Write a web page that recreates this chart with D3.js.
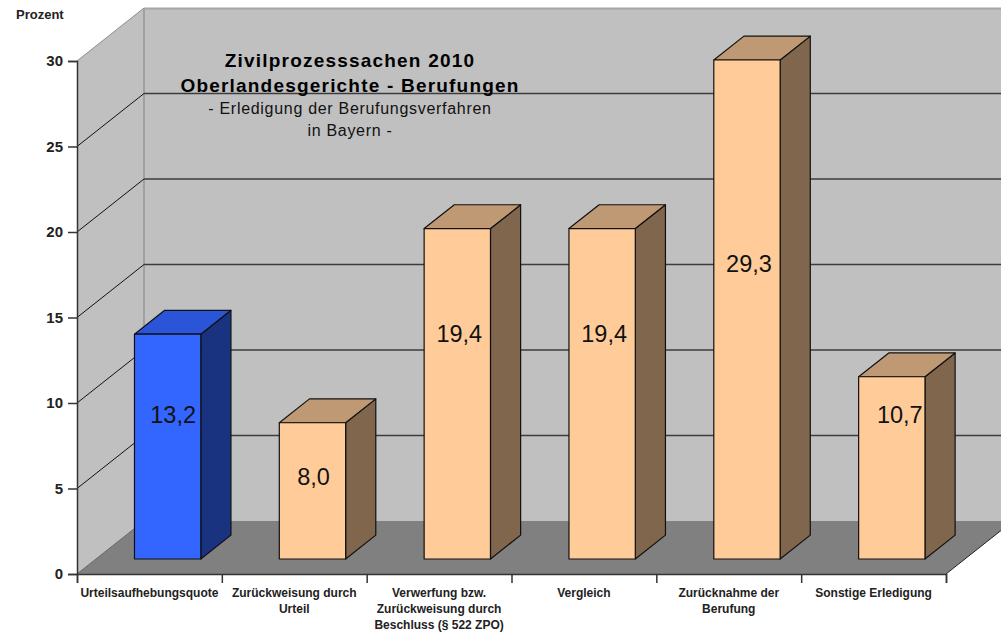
<!DOCTYPE html>
<html>
<head>
<meta charset="utf-8">
<script src="https://cdn.jsdelivr.net/npm/d3@7"></script>
<style>
  body { margin: 0; background: #fff; }
  text { font-family: "Liberation Sans", Arial, sans-serif; }
</style>
</head>
<body>
<div id="chart"></div>
<script>
const categories = ['Urteilsaufhebungsquote', 'Zurückweisung durch Urteil', 'Verwerfung bzw. Zurückweisung durch Beschluss (§ 522 ZPO)', 'Vergleich', 'Zurücknahme der Berufung', 'Sonstige Erledigung'];
const categoryLines = [
    ['Urteilsaufhebungsquote'],
    ['Zurückweisung durch', 'Urteil'],
    ['Verwerfung bzw.', 'Zurückweisung durch', 'Beschluss (§ 522 ZPO)'],
    ['Vergleich'],
    ['Zurücknahme der', 'Berufung'],
    ['Sonstige Erledigung']
];
const values = [13.2, 8.0, 19.4, 19.4, 29.3, 10.7];
const valueLabels = ['13,2', '8,0', '19,4', '19,4', '29,3', '10,7'];
const yTicks = [0, 5, 10, 15, 20, 25, 30];
const titleLines = ['Zivilprozesssachen 2010', 'Oberlandesgerichte - Berufungen'];
const subtitleLines = ['- Erledigung der Berufungsverfahren', 'in Bayern -'];

// the labels do not sit in the bar centre, so they are placed per bar
const labelLevels = [9.3, 5.7, 14.05, 14.05, 18.15, 9.33]; // axis units
const labelShifts = [5.5, 1, 2, 2, 2, 8]; // px right of bar centre

const width = 1001, height = 635;
const plotLeft = 77, plotRight = 946, plotBottom = 574, plotTop = 61;
const depthX = 67, depthY = 53; // offset from front plane to back wall
const barFrontX = 0.272, barFrontY = 0.283, barDepth = 0.45; // share of the depth
const barScale = 0.996; // bars stand further back, a bit smaller than the axis

const x = d3.scaleBand().domain(categories).range([plotLeft, plotRight]);
const y = d3.scaleLinear().domain([0, 30]).range([plotBottom, plotTop]);
const barWidth = x.bandwidth() * 0.458;

const svg = d3.select('#chart').append('svg')
    .attr('width', width)
    .attr('height', height)
    .style('display', 'block');

const poly = pts => pts.map(p => p.join(',')).join(' ');

// back wall, left wall, floor
svg.append('rect')
    .attr('x', plotLeft + depthX)
    .attr('y', y(30) - depthY)
    .attr('width', width - plotLeft - depthX)
    .attr('height', plotBottom - plotTop)
    .style('fill', '#c0c0c0');

svg.append('polygon')
    .attr('points', poly([[plotLeft, y(30)], [plotLeft + depthX, y(30) - depthY], [plotLeft + depthX, y(0) - depthY], [plotLeft, y(0)]]))
    .style('fill', '#c0c0c0');

svg.append('polygon')
    .attr('points', poly([[plotLeft, y(0)], [plotLeft + depthX, y(0) - depthY], [plotRight + depthX, y(0) - depthY], [plotRight, y(0)]]))
    .style('fill', '#808080');

// edges of the walls
svg.append('line')
    .attr('x1', plotLeft + depthX).attr('x2', plotLeft + depthX)
    .attr('y1', y(30) - depthY).attr('y2', y(0) - depthY)
    .style('stroke', '#808080');
svg.append('line')
    .attr('x1', plotLeft + depthX).attr('x2', width)
    .attr('y1', y(30) - depthY + 0.5).attr('y2', y(30) - depthY + 0.5)
    .style('stroke', '#a6a6a6')
    .style('stroke-width', 2);
svg.append('line')
    .attr('x1', plotLeft).attr('x2', plotLeft + depthX)
    .attr('y1', y(30)).attr('y2', y(30) - depthY)
    .style('stroke', '#8c8c8c');
svg.append('line')
    .attr('x1', plotRight).attr('x2', plotRight + depthX)
    .attr('y1', y(0)).attr('y2', y(0) - depthY)
    .style('stroke', '#222');
svg.append('line')
    .attr('x1', plotLeft).attr('x2', plotLeft + depthX)
    .attr('y1', y(0)).attr('y2', y(0) - depthY)
    .style('stroke', '#666');

// gridlines on both walls
const grid = yTicks.filter(d => d > 0 && d < 30);
svg.append('g').selectAll('line')
    .data(grid)
    .enter()
    .append('line')
    .attr('x1', plotLeft + depthX)
    .attr('x2', width)
    .attr('y1', d => y(d) - depthY)
    .attr('y2', d => y(d) - depthY)
    .style('stroke', '#3c3c3c')
    .style('stroke-width', 1.4);

svg.append('g').selectAll('line')
    .data(grid)
    .enter()
    .append('line')
    .attr('x1', plotLeft)
    .attr('x2', plotLeft + depthX)
    .attr('y1', d => y(d))
    .attr('y2', d => y(d) - depthY)
    .style('stroke', '#111')
    .style('stroke-width', 1);

// titles sit behind the bars
svg.append('g').selectAll('text')
    .data(titleLines)
    .enter()
    .append('text')
    .attr('x', 350)
    .attr('y', (d, i) => 67 + i * 25)
    .attr('text-anchor', 'middle')
    .style('font-size', '19px')
    .style('font-weight', 'bold')
    .style('letter-spacing', '1.2px')
    .style('fill', '#000')
    .text(d => d);

svg.append('g').selectAll('text')
    .data(subtitleLines)
    .enter()
    .append('text')
    .attr('x', 350)
    .attr('y', (d, i) => 114 + i * 21.5)
    .attr('text-anchor', 'middle')
    .style('font-size', '16px')
    .style('letter-spacing', '0.7px')
    .style('fill', '#111')
    .text(d => d);

// axes
const yAxis = svg.append('g')
    .attr('transform', `translate(${plotLeft},0)`)
    .call(d3.axisLeft(y).tickValues(yTicks).tickSize(9).tickPadding(5));
yAxis.selectAll('text')
    .style('font-size', '15px')
    .style('font-weight', 'bold')
    .style('fill', '#222');

const xEdges = d3.scaleLinear().domain([0, categories.length]).range([plotLeft, plotRight]);
const xAxis = svg.append('g')
    .attr('transform', `translate(0,${plotBottom})`)
    .call(d3.axisBottom(xEdges).ticks(categories.length).tickSize(9).tickFormat(''));

svg.selectAll('.domain, .tick line')
    .style('stroke', '#333')
    .style('stroke-width', 1.5);

svg.append('text')
    .attr('x', 16)
    .attr('y', 19)
    .style('font-size', '13px')
    .style('font-weight', 'bold')
    .style('fill', '#222')
    .text('Prozent');

// category labels
const catLabels = svg.append('g').selectAll('text')
    .data(categories)
    .enter()
    .append('text')
    .attr('text-anchor', 'middle')
    .style('font-size', '12px')
    .style('font-weight', 'bold')
    .style('fill', '#222');

catLabels.selectAll('tspan')
    .data((d, i) => categoryLines[i].map(line => ({ line, cat: d })))
    .enter()
    .append('tspan')
    .attr('x', d => x(d.cat) + x.bandwidth() / 2)
    .attr('y', (d, i) => 597 + i * 16)
    .text(d => d.line);

// 3d bars
const bars = svg.append('g').selectAll('g')
    .data(categories)
    .enter()
    .append('g')
    .each(function (d, i) {
        const g = d3.select(this);
        const x0 = x(d) + (x.bandwidth() - barWidth) / 2 + depthX * barFrontX;
        const x1 = x0 + barWidth;
        const base = y(0) - depthY * barFrontY;
        const topY = base - (y(0) - y(values[i])) * barScale;
        const dx = depthX * barDepth;
        const dy = depthY * barDepth;
        const colors = i === 0
            ? { front: '#3366ff', side: '#193380', top: '#2a55d8' }
            : { front: '#ffcc99', side: '#80664d', top: '#bf9973' };

        g.append('polygon')
            .attr('points', poly([[x1, topY], [x1 + dx, topY - dy], [x1 + dx, base - dy], [x1, base]]))
            .style('fill', colors.side);
        g.append('polygon')
            .attr('points', poly([[x0, topY], [x0 + dx, topY - dy], [x1 + dx, topY - dy], [x1, topY]]))
            .style('fill', colors.top);
        g.append('rect')
            .attr('x', x0)
            .attr('y', topY)
            .attr('width', barWidth)
            .attr('height', base - topY)
            .style('fill', colors.front);
        g.selectAll('polygon, rect')
            .style('stroke', '#111')
            .style('stroke-width', 1.2)
            .style('stroke-linejoin', 'round');

        g.append('text')
            .attr('x', x0 + barWidth / 2 + labelShifts[i])
            .attr('y', y(labelLevels[i]))
            .attr('dy', '0.36em')
            .attr('text-anchor', 'middle')
            .style('font-size', '23.5px')
            .style('fill', '#111')
            .text(valueLabels[i]);
    });
</script>
</body>
</html>
